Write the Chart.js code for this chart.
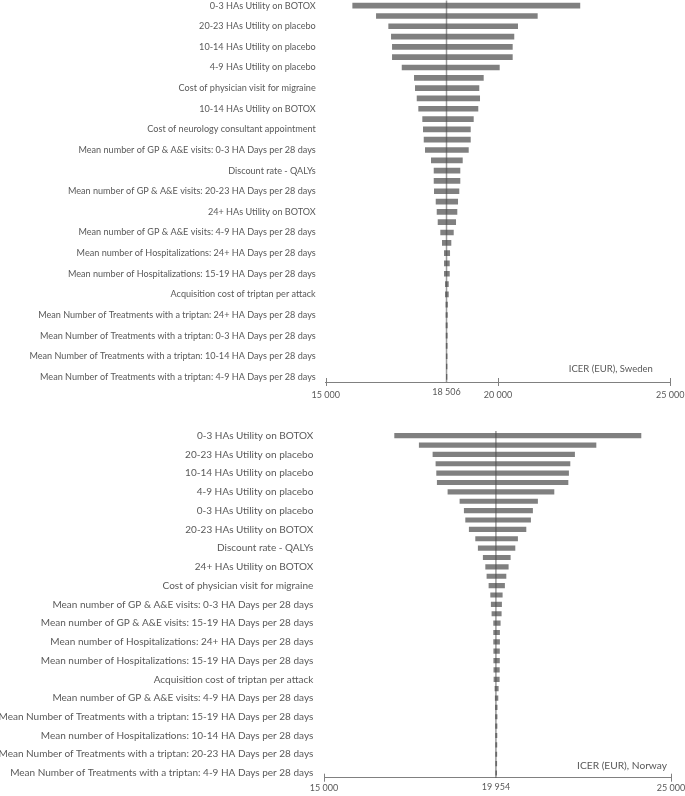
<!DOCTYPE html>
<html>
<head>
<meta charset="utf-8">
<script src="https://cdn.jsdelivr.net/npm/chart.js@4/dist/chart.umd.min.js"></script>
<style>
  body { margin: 0; background: #fff; }
  .box { position: absolute; left: 0; width: 685px; }
</style>
</head>
<body>
<div class="box" style="top:0;height:400px"><canvas id="sweden" width="685" height="400"></canvas></div>
<div class="box" style="top:400px;height:396px"><canvas id="norway" width="685" height="396"></canvas></div>
<script>
// Axis range and ticks (EUR)
const axisMin = 15000;
const axisMax = 25000;
const swedenTicks = [15000, 20000, 25000];
const norwayTicks = [15000, 25000];
const swedenBase = 18506;
const norwayBase = 19954;

// Only every second parameter is labelled in the original chart
const swedenLabels = [
    '0-3 HAs Utility on BOTOX',
    '20-23 HAs Utility on placebo',
    '10-14 HAs Utility on placebo',
    '4-9 HAs Utility on placebo',
    'Cost of physician visit for migraine',
    '10-14 HAs Utility on BOTOX',
    'Cost of neurology consultant appointment',
    'Mean number of GP & A&E visits: 0-3 HA Days per 28 days',
    'Discount rate - QALYs',
    'Mean number of GP & A&E visits: 20-23 HA Days per 28 days',
    '24+ HAs Utility on BOTOX',
    'Mean number of GP & A&E visits: 4-9 HA Days per 28 days',
    'Mean number of Hospitalizations: 24+ HA Days per 28 days',
    'Mean number of Hospitalizations: 15-19 HA Days per 28 days',
    'Acquisition cost of triptan per attack',
    'Mean Number of Treatments with a triptan: 24+ HA Days per 28 days',
    'Mean Number of Treatments with a triptan: 0-3 HA Days per 28 days',
    'Mean Number of Treatments with a triptan: 10-14 HA Days per 28 days',
    'Mean Number of Treatments with a triptan: 4-9 HA Days per 28 days'
];
const swedenLow = [15774, 16461, 16818, 16896, 16925, 16925, 17207, 17563, 17592, 17642, 17688, 17804, 17824,
    17845, 17882, 18056, 18135, 18135, 18143, 18193, 18222, 18251, 18326, 18375, 18433, 18433, 18433, 18462,
    18462, 18478, 18480, 18482, 18484, 18486, 18488, 18490, 18492];
const swedenHigh = [22386, 21151, 20580, 20472, 20426, 20426, 20049, 19585, 19457, 19478, 19428, 19295, 19208,
    19208, 19150, 18976, 18906, 18906, 18877, 18840, 18819, 18782, 18715, 18645, 18608, 18599, 18599, 18570,
    18570, 18545, 18542, 18540, 18538, 18536, 18534, 18532, 18530];

const norwayLabels = [
    '0-3 HAs Utility on BOTOX',
    '20-23 HAs Utility on placebo',
    '10-14 HAs Utility on placebo',
    '4-9 HAs Utility on placebo',
    '0-3 HAs Utility on placebo',
    '20-23 HAs Utility on BOTOX',
    'Discount rate - QALYs',
    '24+ HAs Utility on BOTOX',
    'Cost of physician visit for migraine',
    'Mean number of GP & A&E visits: 0-3 HA Days per 28 days',
    'Mean number of GP & A&E visits: 15-19 HA Days per 28 days',
    'Mean number of Hospitalizations: 24+ HA Days per 28 days',
    'Mean number of Hospitalizations: 15-19 HA Days per 28 days',
    'Acquisition cost of triptan per attack',
    'Mean number of GP & A&E visits: 4-9 HA Days per 28 days',
    'Mean Number of Treatments with a triptan: 15-19 HA Days per 28 days',
    'Mean number of Hospitalizations: 10-14 HA Days per 28 days',
    'Mean Number of Treatments with a triptan: 20-23 HA Days per 28 days',
    'Mean Number of Treatments with a triptan: 4-9 HA Days per 28 days'
];
const norwayLow = [17026, 17735, 18130, 18216, 18236, 18254, 18562, 18908, 19032, 19072, 19176, 19360, 19435,
    19579, 19649, 19686, 19744, 19793, 19810, 19830, 19879, 19879, 19879, 19882, 19882, 19885, 19888, 19917,
    19925, 19930, 19932, 19934, 19936, 19937, 19938, 19939, 19940];
const norwayHigh = [24144, 22848, 22231, 22098, 22058, 22041, 21637, 21164, 21020, 20963, 20830, 20588, 20513,
    20378, 20320, 20254, 20213, 20147, 20127, 20118, 20089, 20069, 20069, 20066, 20066, 20063, 20061, 20032,
    20023, 20000, 19998, 19996, 19994, 19992, 19990, 19988, 19986];

const textColor = '#595959';
const barColor = '#808080';
const fontFamily = "Lato, sans-serif";

function formatEur(v) {
    return String(v).replace(/\B(?=(\d{3})+(?!\d))/g, ' ');
}

// labelled rows alternate with unlabelled ones
function spreadLabels(labels, count) {
    const out = [];
    for (let i = 0; i < count; i++) {
        out.push(i % 2 === 0 ? labels[i / 2] : '');
    }
    return out;
}

function tornadoPlugin(cfg) {
    return {
        id: 'tornado',
        afterDatasetsDraw(chart) {
            const ctx = chart.ctx;
            const area = chart.chartArea;
            const x = chart.scales.x.getPixelForValue(cfg.base);
            ctx.save();
            ctx.strokeStyle = 'rgba(70,70,70,0.55)';
            ctx.lineWidth = 1.5;
            ctx.beginPath();
            ctx.moveTo(x, area.top);
            ctx.lineTo(x, area.bottom);
            ctx.stroke();
            ctx.restore();
        },
        afterDraw(chart) {
            const ctx = chart.ctx;
            const area = chart.chartArea;
            const xs = chart.scales.x;
            ctx.save();
            ctx.strokeStyle = '#808080';
            ctx.lineWidth = 1;
            cfg.ticks.forEach(function(v) {
                const px = Math.round(xs.getPixelForValue(v)) + 0.5;
                ctx.beginPath();
                ctx.moveTo(px, area.bottom - 4);
                ctx.lineTo(px, area.bottom + 4);
                ctx.stroke();
            });
            ctx.fillStyle = textColor;
            ctx.font = cfg.tickFont + 'px ' + fontFamily;
            ctx.textAlign = 'center';
            ctx.textBaseline = 'middle';
            ctx.fillText(formatEur(cfg.base), xs.getPixelForValue(cfg.base), area.bottom + cfg.baseLabelOffset);
            ctx.textAlign = 'right';
            ctx.font = cfg.titleFont + 'px ' + fontFamily;
            ctx.fillText(cfg.title, area.right - cfg.titleInset, area.bottom - cfg.titleRaise);
            ctx.restore();
        }
    };
}

function buildTornado(id, labels, low, high, cfg) {
    const ctx = document.getElementById(id).getContext('2d');
    new Chart(ctx, {
        type: 'bar',
        data: {
            labels: spreadLabels(labels, low.length),
            datasets: [{
                data: low.map(function(v, i) { return [v, high[i]]; }),
                backgroundColor: barColor,
                borderWidth: 0,
                barPercentage: 0.55,
                categoryPercentage: 1
            }]
        },
        options: {
            indexAxis: 'y',
            responsive: false,
            animation: false,
            layout: { padding: { top: cfg.padTop, right: cfg.padRight, left: 0, bottom: 0 } },
            plugins: {
                legend: { display: false },
                tooltip: { enabled: false }
            },
            scales: {
                x: {
                    min: axisMin,
                    max: axisMax,
                    grid: { display: false, drawTicks: false },
                    border: { display: true, color: '#808080', width: 1 },
                    afterBuildTicks: function(scale) {
                        scale.ticks = cfg.ticks.map(function(v) { return { value: v }; });
                    },
                    afterFit: function(scale) {
                        scale.height = cfg.xHeight;
                        scale.paddingLeft = 0;
                        scale.paddingRight = 0;
                    },
                    ticks: {
                        color: textColor,
                        font: { family: fontFamily, size: cfg.tickFont },
                        padding: cfg.tickPad,
                        maxRotation: 0,
                        callback: function(v) { return formatEur(v); }
                    }
                },
                y: {
                    grid: { display: false, drawTicks: false },
                    border: { display: false },
                    afterFit: function(scale) {
                        scale.width = cfg.yWidth;
                        scale.paddingTop = 0;
                        scale.paddingBottom = 0;
                    },
                    ticks: {
                        autoSkip: false,
                        color: textColor,
                        font: { family: fontFamily, size: cfg.labelFont },
                        padding: cfg.labelPad
                    }
                }
            }
        },
        plugins: [tornadoPlugin(cfg)]
    });
}

buildTornado('sweden', swedenLabels, swedenLow, swedenHigh, {
    base: swedenBase, ticks: swedenTicks, title: 'ICER (EUR), Sweden',
    padTop: 0.5, padRight: 14.7, yWidth: 325.7, xHeight: 18,
    labelFont: 9.1, labelPad: 10, tickFont: 9, tickPad: 8,
    baseLabelOffset: 10.5, titleFont: 9.5, titleInset: 17.5, titleRaise: 13.5
});

buildTornado('norway', norwayLabels, norwayLow, norwayHigh, {
    base: norwayBase, ticks: norwayTicks, title: 'ICER (EUR), Norway',
    padTop: 31, padRight: 14, yWidth: 324, xHeight: 18.3,
    labelFont: 10, labelPad: 10.7, tickFont: 9, tickPad: 5,
    baseLabelOffset: 9.5, titleFont: 10.2, titleInset: 4, titleRaise: 12
});
</script>
</body>
</html>
